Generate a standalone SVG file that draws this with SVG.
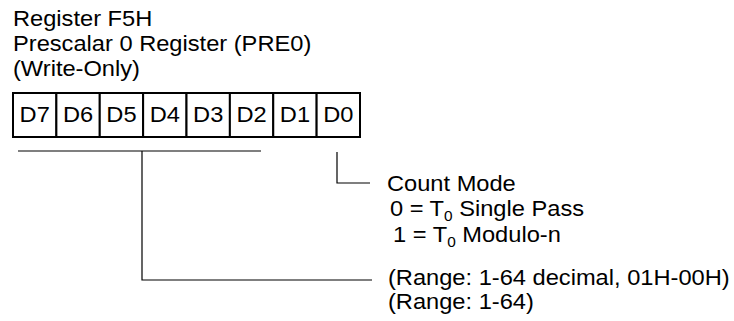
<svg xmlns="http://www.w3.org/2000/svg" width="734" height="321" viewBox="0 0 734 321">
  <style>
    text { font-family: "Liberation Sans", Arial, sans-serif; font-size: 21.5px; fill: #000; }
    .cell { fill: #fff; stroke: #000; stroke-width: 2; }
    .lbl { text-anchor: middle; }
    .conn { fill: none; stroke: #000; stroke-width: 1.2; }
    .sub { font-size: 14px; }
  </style>
  <rect width="734" height="321" fill="#fff"/>
  <g id="title">
    <text transform="scale(1.1 1)" x="11.82" y="26">Register F5H</text>
    <text transform="scale(1.1 1)" x="11.82" y="51">Prescalar 0 Register (PRE0)</text>
    <text transform="scale(1.1 1)" x="11.82" y="76">(Write-Only)</text>
  </g>
  <g id="register">
    <g id="bit-D7"><rect class="cell" x="13" y="93" width="43.375" height="44"/><text class="lbl" transform="scale(1.1 1)" x="31.53" y="122">D7</text></g>
    <g id="bit-D6"><rect class="cell" x="56.375" y="93" width="43.375" height="44"/><text class="lbl" transform="scale(1.1 1)" x="70.97" y="122">D6</text></g>
    <g id="bit-D5"><rect class="cell" x="99.75" y="93" width="43.375" height="44"/><text class="lbl" transform="scale(1.1 1)" x="110.40" y="122">D5</text></g>
    <g id="bit-D4"><rect class="cell" x="143.125" y="93" width="43.375" height="44"/><text class="lbl" transform="scale(1.1 1)" x="149.83" y="122">D4</text></g>
    <g id="bit-D3"><rect class="cell" x="186.5" y="93" width="43.375" height="44"/><text class="lbl" transform="scale(1.1 1)" x="189.26" y="122">D3</text></g>
    <g id="bit-D2"><rect class="cell" x="229.875" y="93" width="43.375" height="44"/><text class="lbl" transform="scale(1.1 1)" x="228.69" y="122">D2</text></g>
    <g id="bit-D1"><rect class="cell" x="273.25" y="93" width="43.375" height="44"/><text class="lbl" transform="scale(1.1 1)" x="268.13" y="122">D1</text></g>
    <g id="bit-D0"><rect class="cell" x="316.625" y="93" width="43.375" height="44"/><text class="lbl" transform="scale(1.1 1)" x="307.56" y="122">D0</text></g>
  </g>
  <g id="connectors">
    <line class="conn" x1="18" y1="151" x2="261" y2="151"/>
    <polyline class="conn" points="142,151 142,280 372,280"/>
    <polyline class="conn" points="337,152 337,183 370,183"/>
  </g>
  <g id="count-mode">
    <text transform="scale(1.1 1)" x="351.8" y="191">Count Mode</text>
    <text transform="scale(1.1 1)" x="354.5" y="216.5">0 = T<tspan class="sub" dy="5">0</tspan><tspan dy="-5"> Single Pass</tspan></text>
    <text transform="scale(1.1 1)" x="357.3" y="242">1 = T<tspan class="sub" dy="5">0</tspan><tspan dy="-5"> Modulo-n</tspan></text>
  </g>
  <g id="range">
    <text transform="scale(1.1 1)" x="352.7" y="285">(Range: 1-64 decimal, 01H-00H)</text>
    <text transform="scale(1.1 1)" x="352.7" y="309">(Range: 1-64)</text>
  </g>
</svg>
